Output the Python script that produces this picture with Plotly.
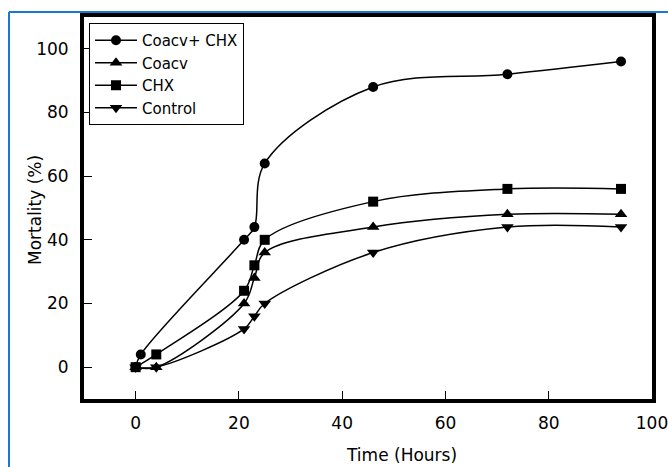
import plotly.graph_objects as go

time_cc = [0, 1, 21, 23, 25, 46, 72, 94]
coacv_chx = [0, 4, 40, 44, 64, 88, 92, 96]

time_std = [0, 4, 21, 23, 25, 46, 72, 94]
coacv = [0, 0, 20, 28, 36, 44, 48, 48]
chx = [0, 4, 24, 32, 40, 52, 56, 56]
control = [0, 0, 12, 16, 20, 36, 44, 44]

series = [
    ("Coacv+ CHX", time_cc, coacv_chx, "circle", 10),
    ("Coacv", time_std, coacv, "triangle-up", 11),
    ("CHX", time_std, chx, "square", 10),
    ("Control", time_std, control, "triangle-down", 11),
]

fig = go.Figure()
for name, xs, ys, sym, sz in series:
    fig.add_trace(go.Scatter(
        x=xs, y=ys, name=name, mode="lines+markers",
        line=dict(color="black", width=1.5, shape="spline", smoothing=1),
        marker=dict(symbol=sym, size=sz, color="black"),
    ))

W, H = 668, 467
ml, mr, mt, mb = 84, 16, 17, 68
pw, ph = W - ml - mr, H - mt - mb

def px_x(x):
    return (x - ml) / pw

def px_y(y):
    return (H - mb - y) / ph

FAM = "DejaVu Sans, Liberation Sans, Arial, sans-serif"
font = dict(family=FAM, size=17, color="black")

fig.update_layout(
    width=W, height=H,
    margin=dict(l=ml, r=mr, t=mt, b=mb, autoexpand=False),
    paper_bgcolor="white", plot_bgcolor="white",
    font=font,
    showlegend=True,
    legend=dict(
        x=px_x(89), y=px_y(23), xanchor="left", yanchor="top",
        bordercolor="black", borderwidth=1, bgcolor="white",
        font=dict(family=FAM, size=15, color="black"),
        itemwidth=42,
    ),
    xaxis=dict(
        range=[-10, 100], tickvals=[0, 20, 40, 60, 80, 100],
        ticks="inside", ticklen=8, tickwidth=1, tickcolor="black",
        showline=True, linewidth=4, linecolor="black", mirror=True,
        showgrid=False, zeroline=False, ticklabelstandoff=6,
        ticklabeloverflow="allow", automargin=False,
    ),
    yaxis=dict(
        range=[-10, 110], tickvals=[0, 20, 40, 60, 80, 100],
        ticks="inside", ticklen=8, tickwidth=1, tickcolor="black",
        showline=True, linewidth=4, linecolor="black", mirror=True,
        showgrid=False, zeroline=False, ticklabelstandoff=8,
        automargin=False,
    ),
    annotations=[
        dict(text="Time (Hours)", xref="paper", yref="paper",
             x=px_x(401), y=px_y(455), xanchor="center", yanchor="middle",
             showarrow=False, font=font),
        dict(text="Mortality (%)", xref="paper", yref="paper",
             x=px_x(35), y=px_y(210), xanchor="center", yanchor="middle",
             textangle=-90, showarrow=False, font=font),
    ],
    shapes=[
        dict(type="line", xref="paper", yref="paper",
             x0=px_x(9), x1=px_x(9), y0=px_y(12), y1=px_y(480),
             line=dict(color="#1a78d0", width=2)),
        dict(type="line", xref="paper", yref="paper",
             x0=px_x(9), x1=px_x(680), y0=px_y(12), y1=px_y(12),
             line=dict(color="#1a78d0", width=2)),
    ],
)

fig.write_html("out.html")
